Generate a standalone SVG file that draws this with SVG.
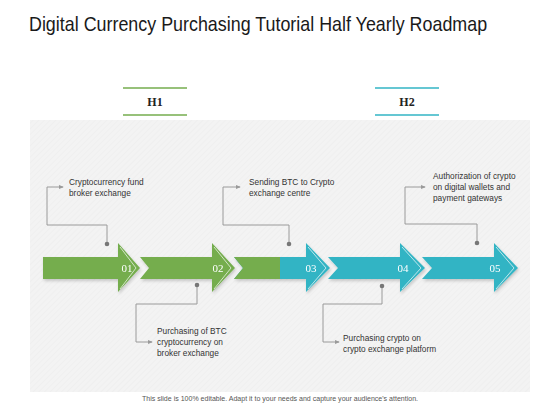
<svg xmlns="http://www.w3.org/2000/svg" width="560" height="420" viewBox="0 0 560 420">
<defs>
<style>
.title{font-family:"Liberation Sans",Arial,sans-serif;font-size:21px;fill:#1a1a1a}
.hd{font-family:"Liberation Serif","Times New Roman",serif;font-size:12px;font-weight:bold;fill:#222;text-anchor:middle}
.num{font-family:"Liberation Serif","Times New Roman",serif;font-size:11px;fill:#fff;text-anchor:middle}
.txt{font-family:"Liberation Sans",Arial,sans-serif;font-size:8.3px;fill:#333}
.foot{font-family:"Liberation Sans",Arial,sans-serif;font-size:6.3px;fill:#555;text-anchor:middle}
.conn{fill:none;stroke:#9a9a9a;stroke-width:1}
.dot{fill:#777}
.chev{fill:none;stroke:#fff;stroke-opacity:0.85;stroke-width:0.8}
.g{fill:#74ad4e}
.t{fill:#32b4c4}
</style>
<marker id="ah" viewBox="0 0 6 6" refX="5" refY="3" markerWidth="5" markerHeight="5" orient="auto" markerUnits="userSpaceOnUse">
<path d="M0,0.5 L6,3 L0,5.5 z" fill="#9a9a9a"/>
</marker>
<pattern id="diag" width="4" height="4" patternUnits="userSpaceOnUse" patternTransform="rotate(45)">
<rect width="4" height="4" fill="#f3f3f3"/>
<line x1="0" y1="0" x2="0" y2="4" stroke="#ececec" stroke-width="1"/>
</pattern>
<filter id="sh" x="-10%" y="-20%" width="130%" height="150%">
<feDropShadow dx="1" dy="2" stdDeviation="1.5" flood-color="#000" flood-opacity="0.18"/>
</filter>
</defs>
<rect width="560" height="420" fill="#fff"/>
<text class="title" transform="scale(0.85,1)" x="34.1" y="31" textLength="539" lengthAdjust="spacingAndGlyphs">Digital Currency Purchasing Tutorial Half Yearly Roadmap</text>
<rect x="30" y="120" width="500" height="272" fill="url(#diag)"/>
<g id="h1">
<line x1="123" y1="88" x2="187" y2="88" stroke="#74ad4e" stroke-width="1.5"/>
<line x1="123" y1="115" x2="187" y2="115" stroke="#74ad4e" stroke-width="1.5"/>
<text class="hd" x="155" y="106">H1</text>
</g>
<g id="h2">
<line x1="375" y1="88" x2="439" y2="88" stroke="#32b4c4" stroke-width="1.5"/>
<line x1="375" y1="115" x2="439" y2="115" stroke="#32b4c4" stroke-width="1.5"/>
<text class="hd" x="407" y="106">H2</text>
</g>
<g id="arrow1" filter="url(#sh)">
<polygon class="g" points="43,257 118,257 118,243 140,268 118,292 118,279 43,279"/>
<polyline class="chev" points="120,247 136,268 120,289"/>
<text class="num" x="127" y="272">01</text>
</g>
<g id="arrow2" filter="url(#sh)">
<polygon class="g" points="140,257 212,257 212,243 235,268 212,292 212,279 140,279 149,268"/>
<polyline class="chev" points="214,247 231,268 214,289"/>
<text class="num" x="218" y="272">02</text>
</g>
<g id="arrow3" filter="url(#sh)">
<polygon class="t" points="234,257 306,257 306,243 330,268 306,292 306,279 234,279 243,268"/>
<polygon class="g" points="234,257 280,257 280,279 234,279 243,268"/>
<polyline class="chev" points="308,247 326,268 308,289"/>
<text class="num" x="311" y="272">03</text>
</g>
<g id="arrow4" filter="url(#sh)">
<polygon class="t" points="328,257 400,257 400,243 425,268 400,292 400,279 328,279 338,268"/>
<polyline class="chev" points="402,247 421,268 402,289"/>
<text class="num" x="403" y="272">04</text>
</g>
<g id="arrow5" filter="url(#sh)">
<polygon class="t" points="422,257 494,257 494,243 518,268 494,292 494,279 422,279 432,268"/>
<polyline class="chev" points="496,247 514,268 496,289"/>
<text class="num" x="495" y="272">05</text>
</g>
<g id="connectors">
<polyline class="conn" points="107,244 107,225 47,225 47,187 63,187" marker-end="url(#ah)"/>
<circle class="dot" cx="107" cy="244" r="2.3"/>
<polyline class="conn" points="289,244 289,225 223,225 223,187 240,187" marker-end="url(#ah)"/>
<circle class="dot" cx="289" cy="244" r="2.3"/>
<polyline class="conn" points="477,243 477,224 405,224 405,187 425,187" marker-end="url(#ah)"/>
<circle class="dot" cx="477" cy="243" r="2.3"/>
<polyline class="conn" points="197,285 197,304 136,304 136,342 152,342" marker-end="url(#ah)"/>
<circle class="dot" cx="197" cy="285" r="2.3"/>
<polyline class="conn" points="382,286 382,304 323,304 323,342 339,342" marker-end="url(#ah)"/>
<circle class="dot" cx="382" cy="286" r="2.3"/>
</g>
<g id="label1">
<text class="txt" x="69" y="185">Cryptocurrency  fund</text>
<text class="txt" x="69" y="196">broker exchange</text>
</g>
<g id="label2">
<text class="txt" x="249" y="185">Sending BTC to Crypto</text>
<text class="txt" x="249" y="196">exchange centre</text>
</g>
<g id="label3">
<text class="txt" x="433" y="179">Authorization  of crypto</text>
<text class="txt" x="433" y="190">on digital  wallets and</text>
<text class="txt" x="433" y="201">payment gateways</text>
</g>
<g id="label4">
<text class="txt" x="157" y="334">Purchasing of BTC</text>
<text class="txt" x="157" y="345">cryptocurrency  on</text>
<text class="txt" x="157" y="356">broker exchange</text>
</g>
<g id="label5">
<text class="txt" x="343" y="341">Purchasing crypto  on</text>
<text class="txt" x="343" y="352">crypto  exchange platform</text>
</g>
<text class="foot" x="280" y="401" textLength="276" lengthAdjust="spacingAndGlyphs">This slide is 100% editable. Adapt it to your needs and capture your audience's attention.</text>
</svg>
